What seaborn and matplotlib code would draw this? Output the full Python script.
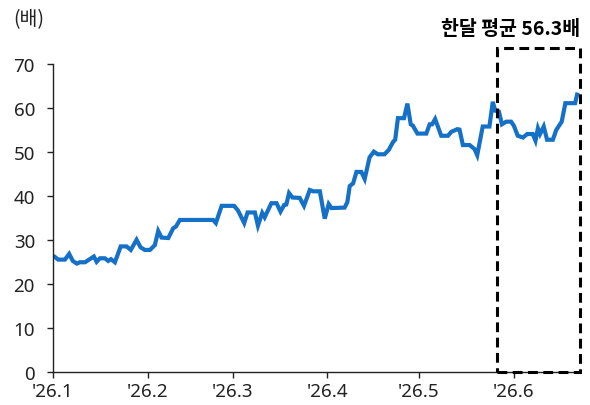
import matplotlib
matplotlib.use("Agg")
import matplotlib.pyplot as plt
import matplotlib.dates as mdates
import seaborn as sns
import pandas as pd
from matplotlib.patches import Rectangle

# ---- data ----
start_date = "2026-01-01"
# days since 2026-01-01 for each vertex of the line
day_offsets = [
    0.1, 1.7, 3.9, 5.3, 6.5, 7.8, 8.8, 10.5, 11.6, 13.4, 14.3, 15.4, 17.0, 18.1,
    19.0, 20.3, 22.2, 24.1, 25.5, 27.4, 28.7, 30.1, 31.8, 33.4, 34.5, 35.6, 37.8,
    39.4, 40.3, 41.6, 52.5, 53.4, 55.3, 59.4, 60.7, 62.7, 63.8, 66.2, 67.2, 68.6,
    69.4, 71.6, 73.3, 74.6, 75.8, 76.5, 77.4, 78.5, 80.9, 82.3, 84.2, 85.3, 87.5,
    89.1, 90.4, 91.3, 95.6, 96.5, 97.3, 98.4, 99.5, 101.1, 102.2, 103.8, 105.2,
    106.5, 108.7, 110.1, 111.5, 112.2, 113.1, 115.1, 116.2, 117.3, 118.0, 119.5,
    122.4, 123.5, 124.3, 125.3, 127.3, 129.5, 130.6, 132.6, 133.3, 134.4, 136.6,
    138.2, 139.1, 140.9, 143.1, 144.2, 145.0, 146.2, 147.2, 148.6, 150.2, 151.1,
    152.4, 154.1, 155.5, 157.3, 158.2, 159.0, 159.7, 160.9, 162.0, 163.9, 165.0,
    166.8, 168.0, 171.2, 172.0,
]
per_values = [
    26.4, 25.5, 25.5, 26.8, 25.2, 24.6, 24.9, 24.9, 25.4, 26.2, 25.0, 25.8, 25.8, 25.2,
    25.6, 24.9, 28.5, 28.5, 27.7, 30.0, 28.3, 27.7, 27.7, 28.8, 32.0, 30.5, 30.4,
    32.6, 33.0, 34.5, 34.5, 33.8, 37.7, 37.7, 36.6, 33.8, 36.2, 36.2, 33.2, 36.1,
    35.1, 38.3, 38.3, 36.4, 37.9, 38.0, 40.6, 39.6, 39.5, 37.7, 41.3, 41.0, 41.0,
    34.8, 38.1, 37.2, 37.3, 38.5, 42.2, 42.8, 45.4, 45.4, 43.8, 48.7, 50.0,
    49.4, 49.4, 50.4, 52.2, 52.7, 57.6, 57.6, 60.9, 56.2, 55.9, 54.1,
    54.1, 56.2, 56.2, 57.4, 53.6, 53.6, 54.5, 55.1, 55.0, 51.5, 51.5,
    50.6, 49.2, 55.7, 55.7, 61.3, 59.3, 59.1, 56.2, 56.8, 56.8, 55.9,
    53.6, 53.2, 54.0, 54.0, 52.5, 55.3, 54.0, 55.7, 52.7, 52.7, 54.9,
    56.8, 61.0, 61.0, 63.4,
]
tick_dates = ["2026-01-01", "2026-02-01", "2026-03-01", "2026-04-01", "2026-05-01", "2026-06-01"]
tick_labels = ["'26.1", "'26.2", "'26.3", "'26.4", "'26.5", "'26.6"]
y_ticks = [0, 10, 20, 30, 40, 50, 60, 70]
unit_label = "(배)"
box_title = "한달 평균 56.3배"
box_start_offset = 145.6   # days since start where the month box begins
x_end_offset = 172.8

# ---- build table ----
t0 = pd.Timestamp(start_date)
df = pd.DataFrame({
    "date": t0 + pd.to_timedelta(day_offsets, unit="D"),
    "per": per_values,
})

sns.set_theme(style="white")
plt.rcParams["font.family"] = ["Noto Sans", "Noto Sans CJK KR", "DejaVu Sans"]

fig = plt.figure(figsize=(5.9, 4.06), dpi=100)
ax = fig.add_axes([53 / 590, 33 / 406, 527 / 590, 308.5 / 406])

sns.lineplot(data=df, x="date", y="per", ax=ax, color="#1570c8", linewidth=3.0,
             solid_joinstyle="miter", solid_capstyle="butt")

x_end = t0 + pd.Timedelta(days=x_end_offset)
ax.set_xlim(t0, x_end)
ax.set_ylim(0, 70)
ax.set_yticks(y_ticks)
ax.set_xticks(pd.to_datetime(tick_dates))
ax.set_xticklabels(tick_labels)
ax.set_xlabel("")
ax.set_ylabel("")

for s in ["top", "right"]:
    ax.spines[s].set_visible(False)
for s in ["left", "bottom"]:
    ax.spines[s].set_color("#222222")
    ax.spines[s].set_linewidth(1.0)

ax.tick_params(axis="y", which="major", left=True, length=4, width=1.0,
               color="#222222", labelsize=13.5, pad=9, labelcolor="#222222")
ax.tick_params(axis="x", which="major", bottom=True, length=4, width=1.0,
               color="#222222", labelsize=13.5, pad=3, labelcolor="#222222")

# dashed month box
bx0 = mdates.date2num(t0 + pd.Timedelta(days=box_start_offset))
bx1 = mdates.date2num(x_end)
rect = Rectangle((bx0, 0), bx1 - bx0, 73.6, fill=False, edgecolor="black",
                 linewidth=2.2, linestyle=(0, (3.2, 1.8)), clip_on=False, zorder=5)
ax.add_patch(rect)

fig.text(29 / 590, 1 - 20 / 406, unit_label, ha="center", va="center",
         fontsize=14, color="#222222",
         family=["Noto Sans CJK KR", "DejaVu Sans"])
fig.text(580 / 590, 1 - 29 / 406, box_title, ha="right", va="center",
         fontsize=14, fontweight="bold", color="black",
         family=["Noto Sans CJK KR", "DejaVu Sans"])

fig.savefig("out.png", dpi=100)
